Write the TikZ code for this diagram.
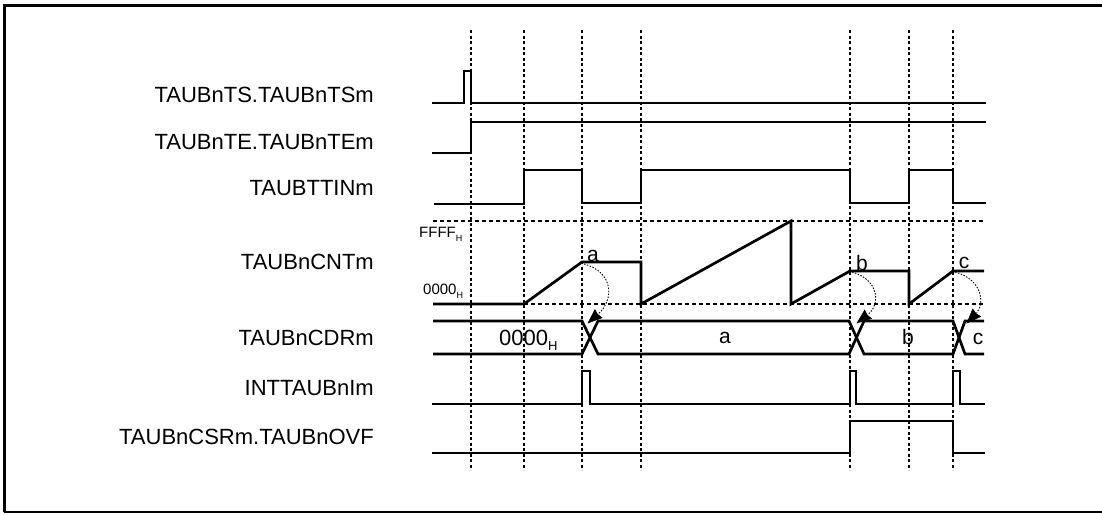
\documentclass[tikz,border=0pt]{standalone}
\usepackage{fontspec}
\setmainfont{Liberation Sans}
\begin{document}
\begin{tikzpicture}[x=1pt,y=-1pt,
  sig/.style={line width=2.7pt, line join=miter, line cap=butt},
  vgrid/.style={line width=1.3pt, dash pattern=on 3pt off 2.5pt},
  hgrid/.style={line width=1.3pt, dash pattern=on 4pt off 3pt},
  lab/.style={anchor=base east, font=\fontsize{22}{24}\selectfont, inner sep=0pt},
  small/.style={anchor=base west, font=\fontsize{15}{16}\selectfont, inner sep=0pt},
  val/.style={font=\fontsize{21}{23}\selectfont, inner sep=0pt},
  fb/.style={line width=0.9pt, dash pattern=on 1.5pt off 1.5pt},
  fbtip/.style={fill=black, draw=black, line width=0.5pt, line join=miter}
]
\fill[white] (0,0) rectangle (1102,514);
\useasboundingbox (0,0) rectangle (1102,514);
% frame
\draw[line width=3pt] (4,512) -- (4,5) -- (1102,5);
\draw[line width=1.5pt] (4,512) -- (1102,512);

% vertical grid
\foreach \x in {471,524,582,641,850,909,953}
  \draw[vgrid] (\x,30) -- (\x,470);

% horizontal grid of counter
\draw[hgrid] (433,221) -- (985,221);
\draw[hgrid] (433,304) -- (985,304);

% labels
\node[lab] (lTS)  at (374,102) {TAUBnTS.TAUBnTSm};
\node[lab] (lTE)  at (374,149) {TAUBnTE.TAUBnTEm};
\node[lab] (lTI)  at (374,195) {TAUBTTINm};
\node[lab] (lCNT) at (374,269) {TAUBnCNTm};
\node[lab] (lCDR) at (374,345) {TAUBnCDRm};
\node[lab] (lINT) at (374,395) {INTTAUBnIm};
\node[lab] (lOVF) at (374,444) {TAUBnCSRm.TAUBnOVF};

\node[small] (lFF) at (419,237) {FFFF\raisebox{-4pt}{\fontsize{9}{9}\selectfont H}};
\node[small] (l00) at (423,294) {0000\raisebox{-4pt}{\fontsize{9}{9}\selectfont H}};

% TS
\draw[sig] (432,103) -- (464,103) -- (464,71) -- (471,71) -- (471,103) -- (986,103);
% TE
\draw[sig] (432,153) -- (471,153) -- (471,122) -- (986,122);
% TTIN
\draw[sig] (434,204) -- (524,204) -- (524,170) -- (582,170) -- (582,203) -- (641,203) -- (641,170)
  -- (850,170) -- (850,203) -- (909,203) -- (909,170) -- (953,170) -- (953,203) -- (986,203);
% CNT
\draw[sig] (433,304) -- (524,304) -- (582,262) -- (641,262) -- (641,304) -- (791,221) -- (791,304)
  -- (850,271) -- (909,271) -- (909,304) -- (953,271) -- (984,271);
\node[val] (ca) at (593,256) {a};
\node[val] (cb) at (862,263) {b};
\node[val] (cc) at (964,263) {c};

% CDR bus
\draw[sig] (433,321) -- (582,321) -- (598,354) -- (849,354) -- (864,321) -- (953,321) -- (965,354) -- (984,354);
\draw[sig] (433,354) -- (582,354) -- (598,321) -- (849,321) -- (864,354) -- (953,354) -- (965,321) -- (984,321);
\node[val, anchor=base west, font=\fontsize{22}{24}\selectfont] (d0) at (499,345) {0000\raisebox{-5pt}{\fontsize{13}{13}\selectfont H}};
\node[val] (da) at (725,338) {a};
\node[val] (db) at (908,337) {b};
\node[val] (dc) at (978,339) {c};

% capture arrows
\coordinate (sa) at (584,264);
\coordinate (ta) at (588,323);
\coordinate (sb) at (852,272);
\coordinate (tb) at (857,323);
\coordinate (sc) at (955,272);
\coordinate (tc) at (967,323);
\draw[fb] (sa) .. controls (614,272) and (614,300) .. (598.5,313.7);
\draw[fb] (sb) .. controls (880,280) and (880,305) .. (868.1,314.3);
\draw[fb] (sc) .. controls (984,280) and (984,305) .. (976.7,312.8);
\filldraw[fbtip] (ta) -- (602.1,317.8) -- (597.5,314.2) -- (594.9,309.6) -- cycle;
\filldraw[fbtip] (tb) -- (871.5,318.6) -- (867.2,315) -- (864.7,310) -- cycle;
\filldraw[fbtip] (tc) -- (980.7,316.6) -- (975.9,313.5) -- (972.7,309) -- cycle;

% INT
\draw[sig] (432,404) -- (582,404) -- (582,371) -- (590,371) -- (590,404) -- (850,404) -- (850,371) -- (856,371)
  -- (856,404) -- (953,404) -- (953,371) -- (960,371) -- (960,404) -- (985,404);
% OVF
\draw[sig] (432,453) -- (850,453) -- (850,421) -- (953,421) -- (953,453) -- (985,453);
\end{tikzpicture}
\end{document}
